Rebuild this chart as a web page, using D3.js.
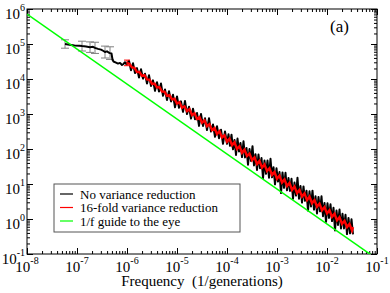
<!DOCTYPE html>
<html>
<head>
<meta charset="utf-8">
<script src="https://cdn.jsdelivr.net/npm/d3@7"></script>
<style>
    body { margin: 0; background: #fff; }
</style>
</head>
<body>
<div id="graph1"></div>
<script>
// spectra, stored as log10(frequency) and log10(power)
var blackLogF = [-7.24, -7.15, -7.05, -6.95, -6.90, -6.82, -6.74, -6.68, -6.64, -6.58, -6.52, -6.47, -6.44, -6.40, -6.36, -6.34, -6.31, -6.29, -6.27, -6.22, -6.18, -6.14, -6.10, -6.07, -6.04, -6.01,
    -5.96, -5.92, -5.88, -5.84, -5.80, -5.76, -5.72, -5.68, -5.64, -5.60, -5.56, -5.52, -5.48, -5.44, -5.40, -5.36, -5.32, -5.28, -5.24, -5.20, -5.16, -5.12, -5.08, -5.04, -5.00,
    -4.96, -4.92, -4.88, -4.84, -4.80, -4.76, -4.72, -4.68, -4.64, -4.60, -4.56, -4.52, -4.48, -4.44, -4.40, -4.36, -4.32, -4.28, -4.24, -4.20, -4.16, -4.12, -4.08, -4.04, -4.00,
    -3.97, -3.94, -3.91, -3.88, -3.85, -3.82, -3.79, -3.76, -3.73, -3.70, -3.67, -3.64, -3.61, -3.58, -3.55, -3.52, -3.49, -3.46, -3.43, -3.40, -3.37, -3.34, -3.31, -3.28, -3.25, -3.22, -3.19, -3.16, -3.13, -3.10,
    -3.07, -3.04, -3.01, -2.98, -2.95, -2.92, -2.89, -2.86, -2.83, -2.80, -2.77, -2.74, -2.71, -2.68, -2.65, -2.62, -2.59, -2.56, -2.53, -2.50, -2.47, -2.44, -2.41, -2.38, -2.35, -2.32, -2.29, -2.26, -2.23, -2.20,
    -2.17, -2.14, -2.11, -2.08, -2.05, -2.02, -1.99, -1.96, -1.93, -1.90, -1.87, -1.84, -1.81, -1.78, -1.75, -1.72, -1.69, -1.66, -1.63, -1.60, -1.57, -1.54, -1.51, -1.48];
var blackLogS = [5.00, 4.98, 4.96, 4.95, 4.94, 4.93, 4.91, 4.92, 4.89, 4.86, 4.84, 4.80, 4.77, 4.79, 4.75, 4.74, 4.73, 4.55, 4.50, 4.47, 4.44, 4.46, 4.40, 4.43, 4.48, 4.42,
    4.52, 4.25, 4.45, 4.17, 4.31, 4.04, 4.28, 4.01, 4.15, 3.87, 4.11, 3.80, 3.96, 3.66, 3.91, 3.64, 3.87, 3.52, 3.70, 3.40, 3.65, 3.36, 3.55, 3.19, 3.50,
    3.18, 3.36, 3.06, 3.37, 3.00, 3.21, 2.87, 3.15, 2.85, 3.03, 2.66, 3.00, 2.66, 2.88, 2.54, 2.88, 2.50, 2.70, 2.35, 2.65, 2.31, 2.55, 2.15, 2.50, 2.15,
    2.42, 2.09, 2.41, 1.99, 2.26, 1.83, 2.30, 1.93, 2.17, 1.77, 2.22, 1.76, 2.03, 1.55, 2.00, 1.66, 2.08, 1.53, 1.85, 1.40, 1.84, 1.45, 1.74, 1.17, 1.67, 1.29, 1.67, 1.18, 1.72, 1.19,
    1.48, 0.99, 1.45, 1.07, 1.34, 0.74, 1.33, 0.89, 1.32, 0.82, 1.17, 0.80, 1.15, 0.58, 1.04, 0.67, 1.18, 0.58, 0.94, 0.47, 0.93, 0.52, 0.81, 0.24, 0.79, 0.36, 0.81, 0.27, 0.65, 0.16,
    0.63, 0.22, 0.65, 0.08, 0.46, -0.08, 0.45, 0.03, 0.42, -0.06, 0.32, -0.33, 0.24, -0.17, 0.27, -0.27, 0.15, -0.27, 0.12, -0.43, 0.03, -0.41, -0.01, -0.44];

var redLogF = [-6.00, -5.95, -5.90, -5.85, -5.80, -5.75, -5.70, -5.65, -5.60, -5.55, -5.50, -5.45, -5.40, -5.35, -5.30, -5.25, -5.20, -5.15,
    -5.10, -5.05, -5.00, -4.95, -4.90, -4.85, -4.80, -4.75, -4.70, -4.65, -4.60, -4.55, -4.50, -4.45, -4.40, -4.35, -4.30, -4.25, -4.20, -4.15, -4.10, -4.05, -4.00,
    -3.95, -3.90, -3.85, -3.80, -3.75, -3.70, -3.65, -3.60, -3.55, -3.50, -3.45, -3.40, -3.35, -3.30, -3.25, -3.20, -3.15, -3.10, -3.05, -3.00, -2.95, -2.90, -2.85, -2.80, -2.75, -2.70,
    -2.65, -2.60, -2.55, -2.50, -2.45, -2.40, -2.35, -2.30, -2.25, -2.20, -2.15, -2.10, -2.05, -2.00, -1.95, -1.90, -1.85, -1.80, -1.75, -1.70, -1.65, -1.60, -1.55, -1.50, -1.48];
var redLogS = [4.46, 4.43, 4.33, 4.32, 4.20, 4.20, 4.09, 4.11, 3.99, 3.98, 3.86, 3.87, 3.76, 3.77, 3.64, 3.64, 3.52, 3.54,
    3.42, 3.44, 3.30, 3.34, 3.18, 3.22, 3.08, 3.14, 2.97, 3.02, 2.86, 2.91, 2.75, 2.82, 2.65, 2.71, 2.54, 2.60, 2.43, 2.51, 2.33, 2.39, 2.21,
    2.29, 2.11, 2.19, 2.00, 2.08, 1.89, 1.98, 1.80, 1.87, 1.68, 1.76, 1.57, 1.66, 1.47, 1.56, 1.37, 1.45, 1.26, 1.34, 1.15, 1.24, 1.04, 1.13, 0.94, 1.03, 0.83,
    0.93, 0.74, 0.83, 0.64, 0.73, 0.54, 0.64, 0.45, 0.54, 0.35, 0.44, 0.25, 0.34, 0.16, 0.25, 0.06, 0.15, -0.04, 0.05, -0.14, -0.05, -0.23, -0.14, -0.33, -0.23];

// error bars (log10 centre and half-height)
var errLogF = [-7.24, -6.90, -6.74, -6.64, -6.44, -6.34];
var errLogS = [5.00, 4.94, 4.91, 4.89, 4.77, 4.74];
var errLogD = [0.12, 0.14, 0.15, 0.16, 0.17, 0.18];
var redErrLogF = [-6.00];
var redErrLogS = [4.46];
var redErrLogD = [0.08];

// 1/f guide
var guideLogF = [-8, -1];
var guideLogS = [5.857, -1.143];

var xTickExp = [-8, -7, -6, -5, -4, -3, -2, -1];
var yTickExp = [-1, 0, 1, 2, 3, 4, 5, 6];

var legendLabels = ["No variance reduction", "16-fold variance reduction", "1/f guide to the eye"];
var legendColors = ["#000000", "#ff0000", "#00ff00"];

var serif = "'Liberation Serif', 'Times New Roman', 'DejaVu Serif', serif";

function toPoints(lf, ls) {
    return lf.map(function (v, i) {
        return {f: Math.pow(10, v), s: Math.pow(10, ls[i])};
    });
}

function plotSpectrum() {

    var margin = {top: 9, right: 13, bottom: 39, left: 27},
        width = 390 - margin.left - margin.right,
        height = 293 - margin.top - margin.bottom;

    var x = d3.scaleLog().domain([1e-8, 1e-1]).range([0, width]);
    var y = d3.scaleLog().domain([1e-1, 1e6]).range([height, 0]);

    var svg = d3.select("#graph1").append("svg")
        .attr("width", width + margin.left + margin.right)
        .attr("height", height + margin.top + margin.bottom)
        .append("g")
        .attr("transform", "translate(" + margin.left + "," + margin.top + ")");

    svg.append("clipPath").attr("id", "clip")
        .append("rect").attr("width", width).attr("height", height);

    // minor tick positions
    var xMinor = [], yMinor = [];
    for (var e = -8; e < -1; e++) {
        for (var m = 2; m < 10; m++) xMinor.push(m * Math.pow(10, e));
    }
    for (var e2 = -1; e2 < 6; e2++) {
        for (var m2 = 2; m2 < 10; m2++) yMinor.push(m2 * Math.pow(10, e2));
    }
    var xMajor = xTickExp.map(function (d) { return Math.pow(10, d); });
    var yMajor = yTickExp.map(function (d) { return Math.pow(10, d); });

    // ticks on all four sides, pointing inward
    function addAxis(axis, vals, size, tr) {
        var g = svg.append("g").attr("transform", tr)
            .call(axis.tickValues(vals).tickSize(size).tickSizeOuter(0).tickFormat(""));
        g.select(".domain").remove();
        g.selectAll("line").attr("stroke", "#000");
    }
    addAxis(d3.axisBottom(x), xMajor, -6, "translate(0," + height + ")");
    addAxis(d3.axisBottom(x), xMinor, -3, "translate(0," + height + ")");
    addAxis(d3.axisTop(x), xMajor, -6, "translate(0,0)");
    addAxis(d3.axisTop(x), xMinor, -3, "translate(0,0)");
    addAxis(d3.axisLeft(y), yMajor, -6, "translate(0,0)");
    addAxis(d3.axisLeft(y), yMinor, -3, "translate(0,0)");
    addAxis(d3.axisRight(y), yMajor, -6, "translate(" + width + ",0)");
    addAxis(d3.axisRight(y), yMinor, -3, "translate(" + width + ",0)");

    // frame
    svg.append("rect")
        .attr("width", width).attr("height", height)
        .attr("fill", "none").attr("stroke", "#000").attr("stroke-width", 1);

    // tick labels
    xTickExp.forEach(function (e) {
        var t = svg.append("text")
            .attr("x", x(Math.pow(10, e)))
            .attr("y", height + 18)
            .attr("text-anchor", "middle")
            .style("font-family", serif)
            .style("font-size", "15px");
        t.append("tspan").text("10");
        t.append("tspan").attr("dy", -8).style("font-size", "10px").text(e);
    });
    yTickExp.forEach(function (e) {
        var t = svg.append("text")
            .attr("x", -2)
            .attr("y", y(Math.pow(10, e)) + 10)
            .attr("text-anchor", "end")
            .style("font-family", serif)
            .style("font-size", "15px");
        t.append("tspan").text("10");
        t.append("tspan").attr("dy", -8).style("font-size", "10px").text(e);
    });

    svg.append("text")
        .attr("x", width / 2)
        .attr("y", height + 32)
        .attr("text-anchor", "middle")
        .style("font-family", serif)
        .style("font-size", "15px")
        .style("white-space", "pre")
        .text("Frequency  (1/generations)");

    svg.append("text")
        .attr("x", 303)
        .attr("y", 23)
        .style("font-family", serif)
        .style("font-size", "17px")
        .text("(a)");

    var line = d3.line()
        .x(function (d) { return x(d.f); })
        .y(function (d) { return y(d.s); });

    var plot = svg.append("g").attr("clip-path", "url(#clip)");

    // error bars
    function errorBars(lf, ls, ld, color, cap) {
        lf.forEach(function (v, i) {
            var cx = x(Math.pow(10, v));
            var lo = y(Math.pow(10, ls[i] - ld[i])), hi = y(Math.pow(10, ls[i] + ld[i]));
            var g = plot.append("g").attr("stroke", color).attr("stroke-width", 1);
            g.append("line").attr("x1", cx).attr("x2", cx).attr("y1", lo).attr("y2", hi);
            g.append("line").attr("x1", cx - cap).attr("x2", cx + cap).attr("y1", lo).attr("y2", lo);
            g.append("line").attr("x1", cx - cap).attr("x2", cx + cap).attr("y1", hi).attr("y2", hi);
        });
    }
    errorBars(errLogF, errLogS, errLogD, "#808080", 4);

    plot.append("path")
        .datum(toPoints(blackLogF, blackLogS))
        .attr("fill", "none").attr("stroke", "#000").attr("stroke-width", 2)
        .attr("stroke-linejoin", "round")
        .attr("d", line);

    errorBars(redErrLogF, redErrLogS, redErrLogD, "#ff0000", 3);

    plot.append("path")
        .datum(toPoints(redLogF, redLogS))
        .attr("fill", "none").attr("stroke", "#ff0000").attr("stroke-width", 2.4)
        .attr("d", line);

    plot.append("path")
        .datum(toPoints(guideLogF, guideLogS))
        .attr("fill", "none").attr("stroke", "#00ff00").attr("stroke-width", 1.5)
        .attr("d", line);

    // legend
    var legend = svg.append("g").attr("transform", "translate(27,175)");
    legend.append("rect")
        .attr("width", 186).attr("height", 48)
        .attr("fill", "#fff").attr("stroke", "#555").attr("stroke-width", 1);
    legendLabels.forEach(function (lab, i) {
        legend.append("line")
            .attr("x1", 6).attr("x2", 19)
            .attr("y1", 10 + i * 13.5).attr("y2", 10 + i * 13.5)
            .attr("stroke", legendColors[i]).attr("stroke-width", 1.2);
        legend.append("text")
            .attr("x", 26).attr("y", 14.5 + i * 13.5)
            .style("font-family", serif)
            .style("font-size", "13px")
            .text(lab);
    });
}

plotSpectrum();
</script>
</body>
</html>
